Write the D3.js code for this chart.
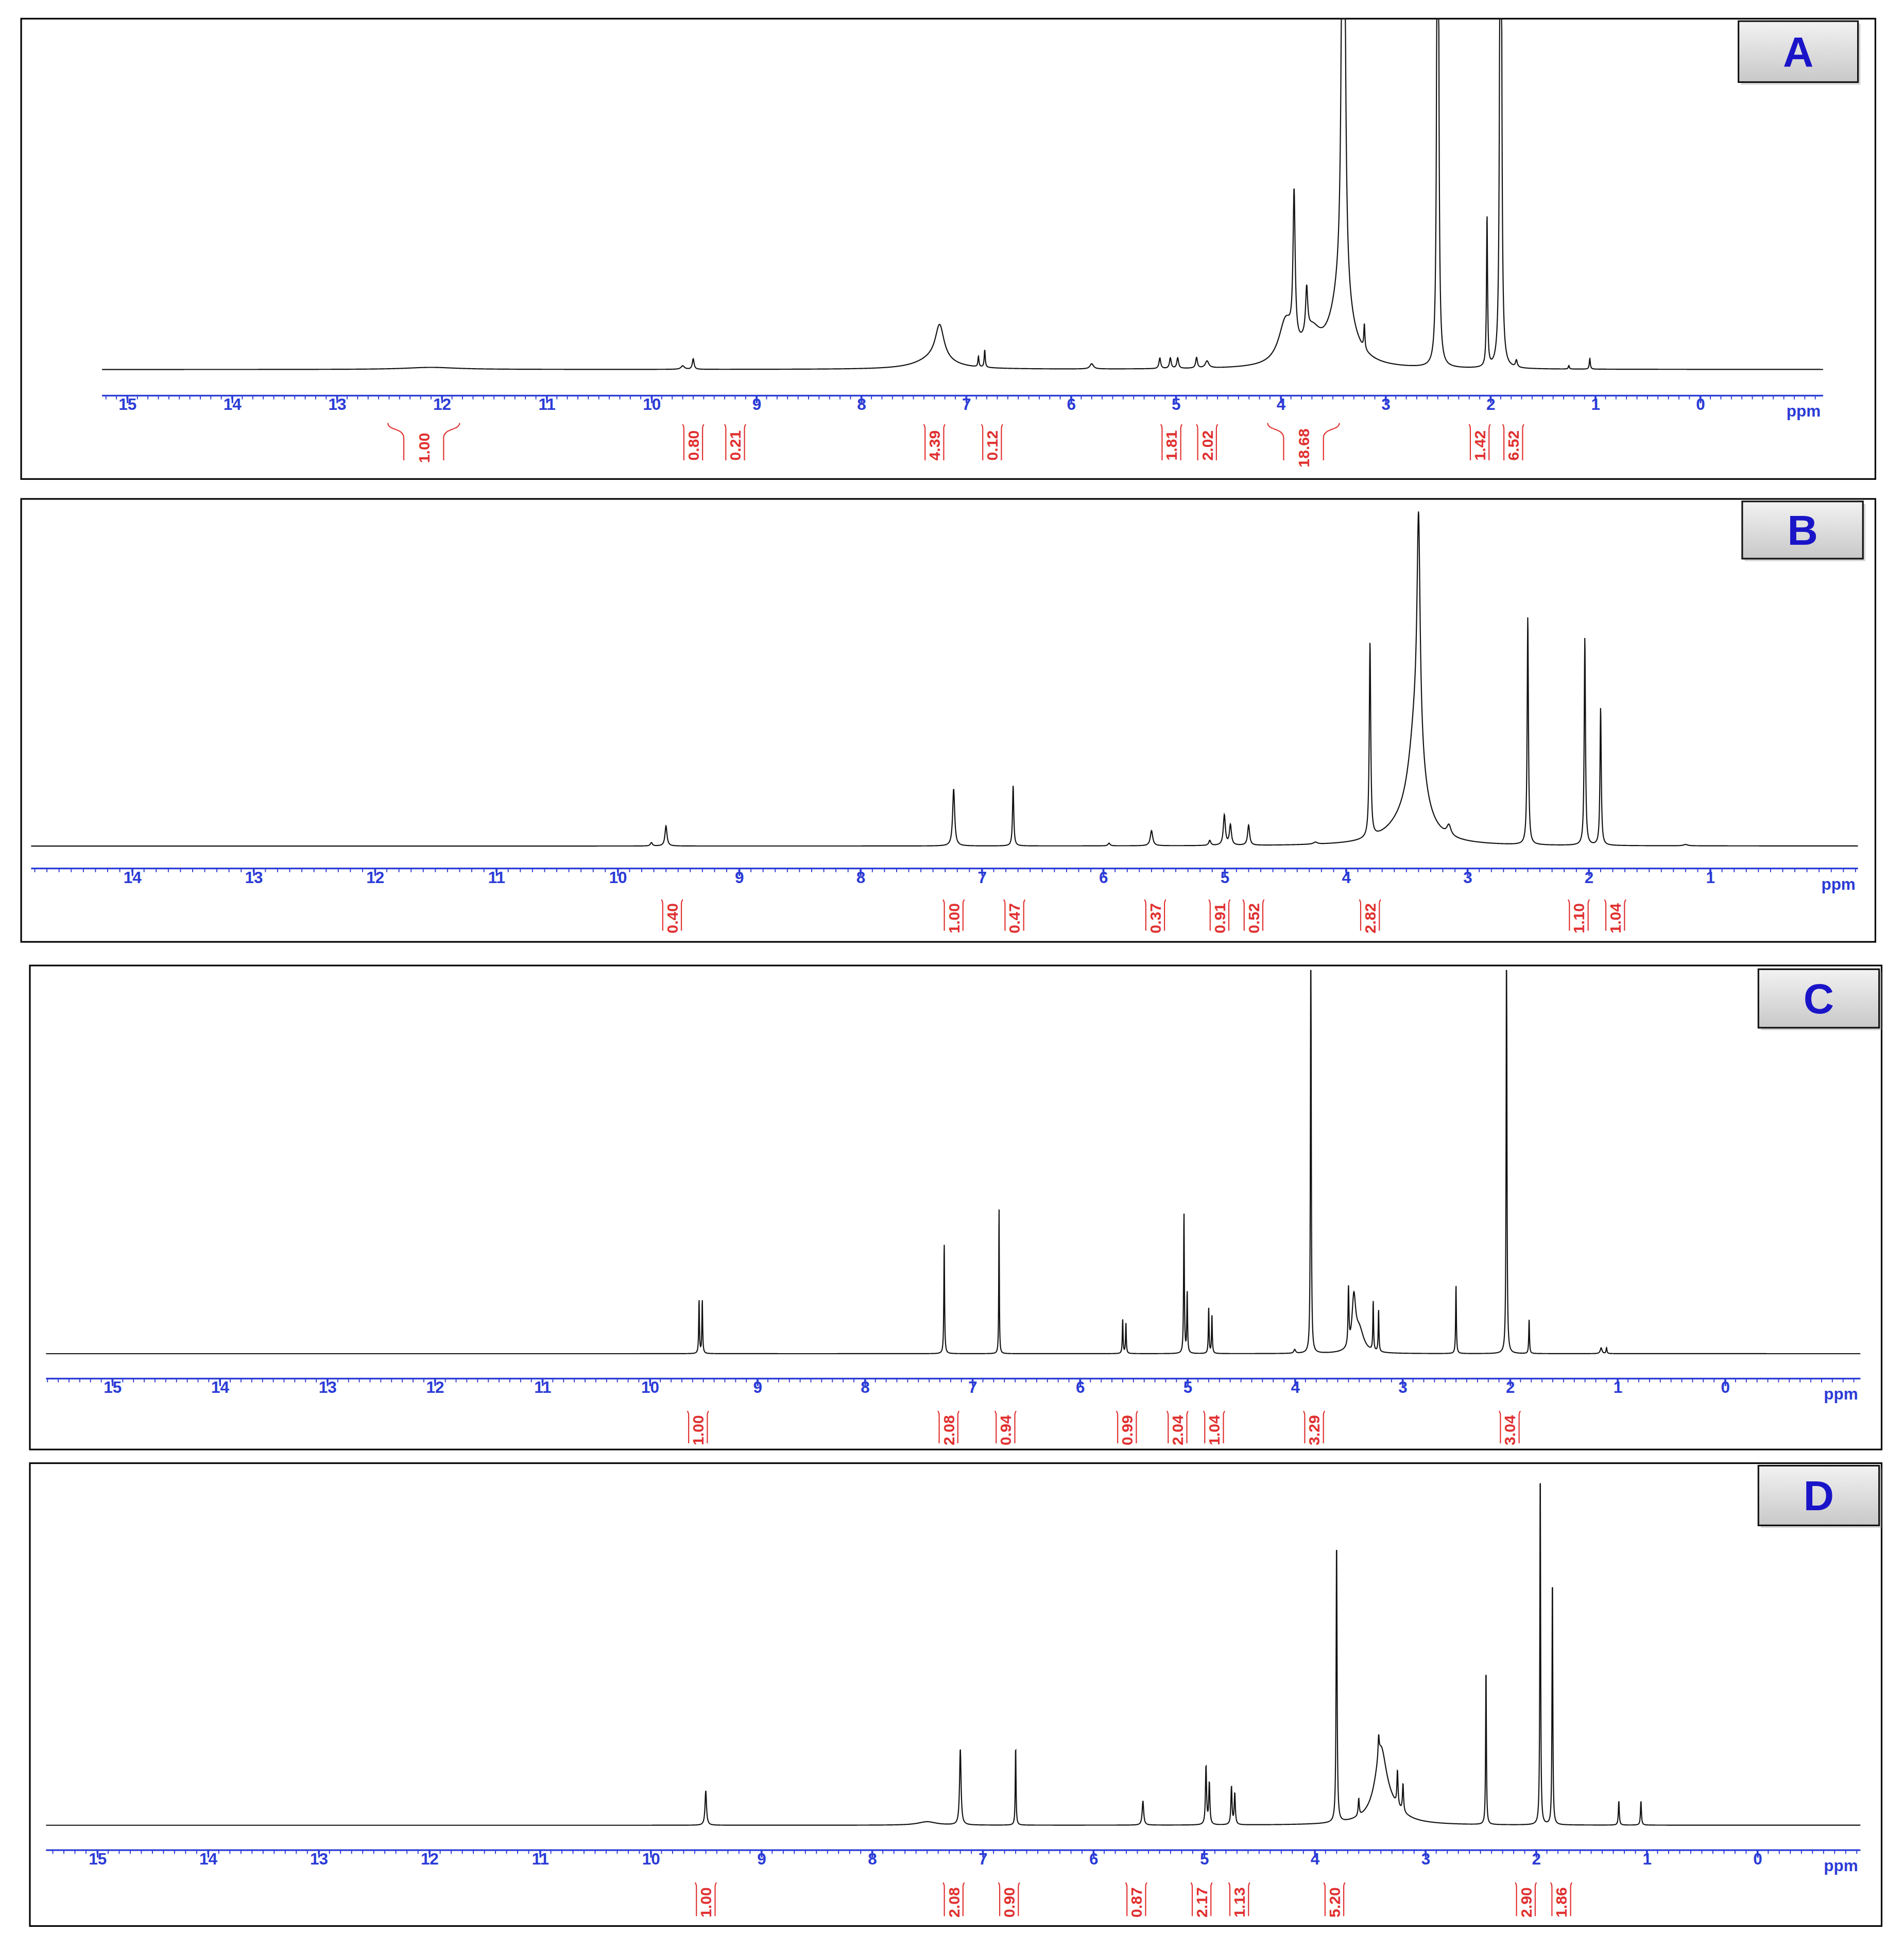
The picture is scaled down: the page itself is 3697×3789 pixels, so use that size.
<!DOCTYPE html>
<html><head><meta charset="utf-8">
<script src="https://cdn.jsdelivr.net/npm/d3@7"></script>
<style>body{margin:0;background:#fff}</style></head>
<body><svg id="c" width="3697" height="3789"></svg>
<script>
// peaks: [ppm, height, halfwidth]
const peaksA=[[3.4,3,0.012],[3.42,0.2,0.12],[2.5,4,0.006],[1.9,4,0.006],[2.03,0.43,0.006],[3.87,0.42,0.012],[3.75,0.13,0.012],[3.95,0.12,0.08],[3.7,0.08,0.1],[3.2,0.07,0.006],[7.25,0.1,0.05],[7.3,0.03,0.2],[6.82,0.05,0.006],[6.88,0.03,0.006],[5.15,0.03,0.01],[5.05,0.03,0.01],[4.98,0.03,0.01],[4.8,0.03,0.01],[4.7,0.02,0.02],[5.8,0.015,0.02],[9.6,0.03,0.01],[9.7,0.01,0.02],[1.05,0.03,0.006],[1.25,0.01,0.006],[12.1,0.006,0.3],[1.75,0.02,0.01]];
const peaksB=[[3.4,0.65,0.015],[3.42,0.33,0.07],[3.5,0.05,0.2],[3.8,0.58,0.007],[2.5,0.68,0.006],[2.03,0.62,0.006],[1.9,0.41,0.006],[7.23,0.17,0.01],[6.74,0.18,0.006],[9.6,0.06,0.01],[9.72,0.01,0.01],[5.6,0.045,0.012],[5.0,0.09,0.01],[4.95,0.06,0.01],[5.12,0.015,0.01],[4.8,0.06,0.01],[5.95,0.008,0.01],[4.25,0.006,0.02],[3.15,0.03,0.02],[1.2,0.004,0.02]];
const peaksC=[[3.85,1.2,0.004],[2.03,1.2,0.004],[7.26,0.29,0.004],[6.75,0.39,0.003],[5.03,0.37,0.004],[5.0,0.16,0.004],[9.54,0.14,0.004],[9.51,0.14,0.004],[5.6,0.09,0.004],[5.57,0.08,0.004],[4.8,0.12,0.004],[4.77,0.1,0.004],[3.5,0.15,0.005],[3.45,0.13,0.02],[3.4,0.06,0.05],[3.27,0.13,0.004],[3.22,0.11,0.004],[2.5,0.18,0.004],[1.82,0.09,0.004],[1.15,0.015,0.01],[1.1,0.015,0.005],[4.0,0.01,0.01]];
const peaksD=[[1.96,1.05,0.004],[1.85,0.73,0.004],[3.8,0.82,0.005],[2.45,0.46,0.004],[3.4,0.18,0.06],[3.42,0.06,0.006],[3.35,0.05,0.15],[7.2,0.22,0.008],[6.7,0.23,0.004],[9.5,0.1,0.008],[5.55,0.07,0.008],[4.98,0.17,0.006],[4.95,0.12,0.006],[4.75,0.11,0.006],[4.72,0.09,0.006],[3.25,0.1,0.006],[3.2,0.08,0.006],[3.6,0.05,0.006],[1.25,0.07,0.005],[1.05,0.07,0.005],[7.5,0.01,0.1]];
// integrals: [ppm, label]
const intA=[[12.17,"1.00"],[9.6,"0.80"],[9.2,"0.21"],[7.3,"4.39"],[6.75,"0.12"],[5.04,"1.81"],[4.7,"2.02"],[3.78,"18.68"],[2.1,"1.42"],[1.78,"6.52"]];
const intB=[[9.55,"0.40"],[7.23,"1.00"],[6.73,"0.47"],[5.57,"0.37"],[5.04,"0.91"],[4.76,"0.52"],[3.8,"2.82"],[2.08,"1.10"],[1.78,"1.04"]];
const intC=[[9.55,"1.00"],[7.22,"2.08"],[6.69,"0.94"],[5.56,"0.99"],[5.09,"2.04"],[4.75,"1.04"],[3.82,"3.29"],[2.0,"3.04"]];
const intD=[[9.5,"1.00"],[7.26,"2.08"],[6.76,"0.90"],[5.61,"0.87"],[5.02,"2.17"],[4.68,"1.13"],[3.82,"5.20"],[2.09,"2.90"],[1.77,"1.86"]];
const panelLetters=["A","B","C","D"];
const wideBrackets=[["A","12.17"],["A","3.78"]];

const S=3697/1530;
const svg=d3.select("#c");
const defs=svg.append("defs");
const gr=defs.append("linearGradient").attr("id","g").attr("x1",0).attr("y1",0).attr("x2",0).attr("y2",1);
gr.append("stop").attr("offset","0").attr("stop-color","#f2f2f2");
gr.append("stop").attr("offset","1").attr("stop-color","#c8c8c8");
const root=svg.append("g").attr("transform",`scale(${S})`);

const panels=[
 {id:"A",peaks:peaksA,ints:intA,box:[17,15,1507,385],ppm0:[15,102],ppm1:[0,1366],ax:[82,1465],axY:318,base:297,top:15,intY:[340,370],lab:[1397,17,1493,66]},
 {id:"B",peaks:peaksB,ints:intB,box:[17,401,1507,757],ppm0:[14,106],ppm1:[1,1374],ax:[25,1493],axY:698,base:680,top:410,intY:[722,748],lab:[1400,403,1497,449]},
 {id:"C",peaks:peaksC,ints:intC,box:[24,776,1512,1165],ppm0:[15,90],ppm1:[0,1386],ax:[37,1495],axY:1108,base:1088,top:780,intY:[1133,1160],lab:[1413,779,1510,826]},
 {id:"D",peaks:peaksD,ints:intD,box:[24,1176,1512,1548],ppm0:[15,78],ppm1:[0,1412],ax:[37,1495],axY:1487,base:1467,top:1190,intY:[1512,1540],lab:[1413,1178,1510,1226]}
];

panels.forEach(p=>{
  const g=root.append("g");
  const [bx0,by0,bx1,by1]=p.box;
  g.append("rect").attr("x",bx0).attr("y",by0).attr("width",bx1-bx0).attr("height",by1-by0).attr("fill","#fff").attr("stroke","#000").attr("stroke-width",1.3);
  const x=d3.scaleLinear().domain([p.ppm0[0],p.ppm1[0]]).range([p.ppm0[1],p.ppm1[1]]);
  const pL=x.invert(p.ax[0]), pR=x.invert(p.ax[1]);
  const y=d3.scaleLinear().domain([0,1]).range([p.base,p.top]).clamp(true);
  const pts=[];
  for(let v=pL; v>=pR; v-=0.002){
    let s=0; p.peaks.forEach(([c,h,w])=>{const d=(v-c)/w; s+=h/(1+d*d);});
    pts.push([v,s]);
  }
  g.append("path").datum(pts).attr("fill","none").attr("stroke","#111").attr("stroke-width",0.9)
   .attr("d",d3.line().x(d=>x(d[0])).y(d=>y(d[1])));
  const ag=g.append("g").attr("transform",`translate(0,${p.axY})`);
  const ticks=d3.range(Math.ceil(pR+0.45),Math.floor(pL)+1);
  const axis=d3.axisBottom(x).tickValues(ticks).tickFormat(d3.format("d")).tickSize(6).tickSizeOuter(0);
  ag.call(axis);
  ag.select(".domain").attr("stroke","#2b3bd6").attr("stroke-width",1.3).attr("d",`M${p.ax[0]},0H${p.ax[1]}`);
  ag.selectAll(".tick line").attr("stroke","#2b3bd6").attr("stroke-width",1.3);
  ag.selectAll(".tick text").attr("fill","#2b3bd6").attr("font-family","Liberation Sans, Arial").attr("font-weight","bold").attr("font-size",13).attr("dy","0.2em");
  const minor=d3.range(Math.ceil(pR*10),Math.floor(pL*10)+1).map(v=>v/10);
  ag.selectAll(".mn").data(minor).enter().append("line").attr("x1",d=>x(d)).attr("x2",d=>x(d)).attr("y1",-0.5).attr("y2",3).attr("stroke","#2b3bd6").attr("stroke-width",0.8);
  ag.append("text").attr("x",p.ax[1]-2).attr("y",17).attr("text-anchor","end").attr("fill","#2b3bd6").attr("font-family","Liberation Sans, Arial").attr("font-weight","bold").attr("font-size",13).text("ppm");
  const [iy0,iy1]=p.intY;
  p.ints.forEach(([c,lab])=>{
    const cx=x(c), wide=wideBrackets.some(w=>w[0]===p.id&&w[1]===c.toFixed(2));
    const ig=g.append("g").attr("stroke","#e03030").attr("fill","none").attr("stroke-width",0.9);
    const hw=wide?16:7.5;
    [-1,1].forEach(sd=>{
      if(wide){
        ig.append("path").attr("d",`M${cx+sd*hw*1.8},${iy0}C${cx+sd*hw*1.8},${iy0+6} ${cx+sd*hw},${iy0+4} ${cx+sd*hw},${iy0+12}V${iy1}`);
      } else {
        ig.append("path").attr("d",`M${cx+sd*hw+sd*1},${iy0+1}C${cx+sd*hw},${iy0+3} ${cx+sd*hw},${iy0+3} ${cx+sd*hw},${iy0+6}V${iy1}`);
      }
    });
    g.append("text").attr("transform",`translate(${cx+4.5},${(iy0+iy1)/2+(wide?5:3)}) rotate(-90)`)
     .attr("text-anchor","middle").attr("fill","#e03030").attr("font-family","Liberation Sans Narrow, Liberation Sans, Arial").attr("font-size",12.5).attr("font-weight","bold").text(lab);
  });
  const [lx0,ly0,lx1,ly1]=p.lab;
  g.append("rect").attr("x",lx0+2).attr("y",ly0+2).attr("width",lx1-lx0).attr("height",ly1-ly0).attr("fill","#aaa").attr("opacity",0.5);
  g.append("rect").attr("x",lx0).attr("y",ly0).attr("width",lx1-lx0).attr("height",ly1-ly0).attr("fill","url(#g)").attr("stroke","#111").attr("stroke-width",1.3);
  g.append("text").attr("x",(lx0+lx1)/2).attr("y",(ly0+ly1)/2+12).attr("text-anchor","middle").attr("fill","#1a14c8").attr("font-family","Liberation Sans, Arial").attr("font-weight","bold").attr("font-size",34).text(p.id);
});
</script></body></html>
